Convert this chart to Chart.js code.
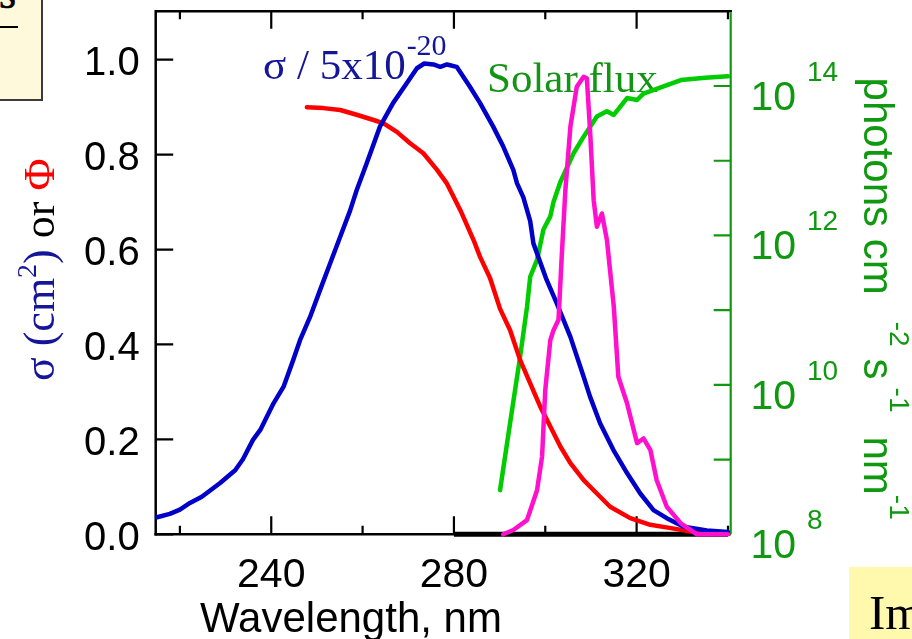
<!DOCTYPE html>
<html>
<head>
<meta charset="utf-8">
<script src="https://cdn.jsdelivr.net/npm/chart.js@4/dist/chart.umd.min.js"></script>
<style>
  html, body { margin: 0; padding: 0; background: #fff; width: 912px; height: 639px; overflow: hidden; }
  #wrap { position: absolute; left: 0; top: 0; width: 912px; height: 639px; }
  #c { position: absolute; left: 0; top: 0; }
  .note { position: absolute; box-sizing: border-box; overflow: hidden; }
  #noteA { left: -3px; top: -3px; width: 46px; height: 104px; background: #fff9dc; border: 2px solid #3a3a3a; }
  #noteA span { position: absolute; left: 0px; top: -27px; font: 44px 'Liberation Serif'; line-height: 44px; color: #000; -webkit-text-stroke: 0.6px #000; }
  #noteA i { position: absolute; left: 0; top: 27px; width: 19px; height: 1.5px; background: #000; }
  #noteB { left: 849px; top: 567px; width: 70px; height: 80px; background: #fff9ae; }
  #noteB span { position: absolute; left: 20px; top: 21px; font: 49px 'Liberation Serif'; line-height: 49px; color: #000; white-space: nowrap; }
</style>
</head>
<body>
<div id="wrap">
  <canvas id="c" width="912" height="639"></canvas>
  <div class="note" id="noteA"><span>s</span><i></i></div>
  <div class="note" id="noteB"><span>Im</span></div>
</div>
<script>
// Absorption cross-section (normalised by 5e-20 cm^2), quantum yield and solar flux vs wavelength
const sigmaWl  = [215, 217.8, 220, 222.2, 224.8, 228.8, 232.1, 233.8, 236, 237.6, 240.5, 242.7, 244.8, 246.3, 248.5,
                  250.7, 252.9, 255.1, 257.3, 258.7, 260.9, 263.8, 266.7, 269.7, 271.9, 273.5, 275.5, 277, 278.5, 280.6,
                  283.5, 285.7, 288.6, 290.8, 293, 293.8, 295.2, 296.7, 297.4, 300.3, 302.5, 305.5, 308.4, 309.8, 312,
                  314.9, 317.9, 320.8, 323.7, 326.6, 330.3, 335.4, 340];
const sigmaVal = [0.036, 0.043, 0.052, 0.066, 0.079, 0.108, 0.135, 0.158, 0.199, 0.220, 0.276, 0.311, 0.367, 0.409, 0.458,
                  0.515, 0.571, 0.627, 0.683, 0.725, 0.782, 0.859, 0.909, 0.951, 0.982, 0.992, 0.990, 0.985, 0.990, 0.985,
                  0.943, 0.909, 0.859, 0.817, 0.768, 0.740, 0.710, 0.660, 0.613, 0.536, 0.487, 0.416, 0.332, 0.290, 0.234,
                  0.178, 0.129, 0.086, 0.051, 0.034, 0.016, 0.008, 0.005];

const phiWl  = [247.8, 251.4, 255.1, 258.7, 262.4, 264.6, 267.5, 270.4, 273.3, 276.3, 278.4, 280.3, 281.4, 284.3, 285.7,
                287.9, 290.1, 292.3, 294.5, 296.7, 298.9, 301.1, 303.3, 305.5, 308.4, 311.3, 314.2, 318.6, 323, 327.5,
                331.8, 337.6, 340];
const phiVal = [0.900, 0.898, 0.894, 0.884, 0.873, 0.866, 0.848, 0.824, 0.803, 0.768, 0.740, 0.704, 0.683, 0.620, 0.585,
                0.540, 0.475, 0.430, 0.367, 0.318, 0.269, 0.227, 0.185, 0.150, 0.114, 0.086, 0.058, 0.034, 0.020, 0.013,
                0.006, 0.002, 0.001];

const rateWl  = [290.8, 293.0, 296.0, 298.2, 299.3, 300.0, 301.1, 301.8, 302.9, 303.6, 304.4, 305.5, 306.9, 308.4, 309.1,
                 309.8, 310.6, 311.3, 312.4, 313.5, 315.0, 316.0, 317.9, 320.1, 321.5, 323.0, 324.4, 326.6, 329.7, 333.2, 340];
const rateVal = [0, 0.009, 0.030, 0.093, 0.164, 0.304, 0.409, 0.430, 0.452, 0.585, 0.725, 0.859, 0.943, 0.964, 0.961,
                 0.852, 0.704, 0.648, 0.676, 0.620, 0.480, 0.332, 0.276, 0.192, 0.202, 0.178, 0.114, 0.058, 0.023, 0, 0];

const fluxWl  = [290.1, 292.3, 294.5, 296.0, 296.7, 298.2, 299.6, 301.1, 301.8, 303.3, 306.2, 308.4, 311.3, 313.5, 315.0,
                 317.9, 320.1, 321.5, 329.7, 335, 340];
const fluxVal = [3.9e8, 3.1e9, 2.4e10, 1.1e11, 2.8e11, 4.7e11, 1.2e12, 1.8e12, 2.8e12, 5.2e12, 1.26e13, 2.1e13, 3.9e13, 4.6e13, 4.1e13,
                 6.9e13, 6.5e13, 7.9e13, 1.2e14, 1.29e14, 1.35e14];

const baseWl  = [280, 340];
const baseVal = [0, 0];

// Axis ticks and labels
const wlMajorTicks = [240, 280, 320];
const wlMinorTicks = [220, 260, 300, 340];
const leftTicks    = [0, 0.2, 0.4, 0.6, 0.8, 1.0];
const fluxTickExp  = [9, 10, 11, 12, 13, 14];
const fluxLabelExp = [8, 10, 12, 14];

const BLUE = '#0000c8', RED = '#ff0000', MAGENTA = '#ff10cc', GREEN = '#00cc00';
const AX_GREEN = '#109910', TXT_BLUE = '#15159a', TXT_GREEN = '#149414';
const SANS = "'Liberation Sans', Arial, sans-serif";
const SERIF = "'Liberation Serif', 'Times New Roman', serif";
const CURVE_W = 4.5;

const pairs = (xs, ys) => xs.map((x, i) => ({ x, y: ys[i] }));

// draws a run of text pieces one after another; pieces may be raised (superscripts)
function drawRun(ctx, pieces) {
  let pos = 0;
  for (const p of pieces) {
    pos += p.gap || 0;
    ctx.font = p.font;
    ctx.fillStyle = p.color;
    ctx.fillText(p.text, pos, p.dy || 0);
    pos += ctx.measureText(p.text).width;
  }
}

const axesPlugin = {
  id: 'framedAxes',
  beforeDatasetsDraw(chart) {
    const { ctx, chartArea: a, scales } = chart;
    const xs = scales.x, ys = scales.y, fs = scales.flux;
    ctx.save();

    // in-plot labels
    ctx.textAlign = 'left';
    ctx.textBaseline = 'alphabetic';
    ctx.save();
    ctx.translate(263, 79.3);
    drawRun(ctx, [
      { text: 'σ / 5x10', font: '43px ' + SERIF, color: TXT_BLUE },
      { text: '-20', font: '30px ' + SERIF, color: TXT_BLUE, dy: -24, gap: 1 }
    ]);
    ctx.restore();
    ctx.font = '43px ' + SERIF;
    ctx.fillStyle = TXT_GREEN;
    ctx.fillText('Solar flux', 487, 91.7);

    // frame: left, top, bottom in black; right in green
    ctx.lineCap = 'butt';
    ctx.lineJoin = 'miter';
    ctx.strokeStyle = '#000';
    ctx.lineWidth = 2.5;
    ctx.beginPath();
    ctx.moveTo(a.left, a.bottom + 1.25);
    ctx.lineTo(a.left, a.top);
    ctx.lineTo(a.right + 1.25, a.top);
    ctx.stroke();
    ctx.beginPath();
    ctx.moveTo(a.left - 1.25, a.bottom);
    ctx.lineTo(a.right, a.bottom);
    ctx.stroke();
    ctx.strokeStyle = AX_GREEN;
    ctx.lineWidth = 2.2;
    ctx.beginPath();
    ctx.moveTo(a.right, a.top + 1.25);
    ctx.lineTo(a.right, a.bottom);
    ctx.stroke();

    // inward ticks
    ctx.strokeStyle = '#000';
    ctx.lineWidth = 2.2;
    ctx.beginPath();
    for (const v of wlMajorTicks) {
      const px = xs.getPixelForValue(v);
      ctx.moveTo(px, a.bottom); ctx.lineTo(px, a.bottom - 18);
      ctx.moveTo(px, a.top); ctx.lineTo(px, a.top + 17.5);
    }
    for (const v of wlMinorTicks) {
      const px = xs.getPixelForValue(v);
      ctx.moveTo(px, a.bottom); ctx.lineTo(px, a.bottom - 8.5);
      ctx.moveTo(px, a.top); ctx.lineTo(px, a.top + 8);
    }
    for (const v of leftTicks) {
      const py = ys.getPixelForValue(v);
      ctx.moveTo(a.left, py); ctx.lineTo(a.left + 17.5, py);
    }
    ctx.stroke();
    ctx.strokeStyle = AX_GREEN;
    ctx.beginPath();
    for (const e of fluxTickExp) {
      const py = fs.getPixelForValue(Math.pow(10, e));
      ctx.moveTo(a.right, py); ctx.lineTo(a.right - 17, py);
    }
    ctx.stroke();
    ctx.restore();
  },
  afterDraw(chart) {
    const { ctx, scales } = chart;
    const xs = scales.x, ys = scales.y, fs = scales.flux;
    ctx.save();
    ctx.textBaseline = 'alphabetic';

    // wavelength tick labels
    ctx.font = '41px ' + SANS;
    ctx.fillStyle = '#000';
    ctx.textAlign = 'center';
    for (const v of wlMajorTicks) ctx.fillText(String(v), xs.getPixelForValue(v), 587);
    ctx.textAlign = 'left';
    ctx.font = '42px ' + SANS;
    ctx.fillText('Wavelength, nm', 200, 631.7);

    // left tick labels
    ctx.font = '40px ' + SANS;
    ctx.textAlign = 'right';
    for (const v of leftTicks) ctx.fillText(v.toFixed(1), 139.7, ys.getPixelForValue(v) + 15.3);

    // right (log) tick labels with superscript exponents
    ctx.textAlign = 'left';
    ctx.fillStyle = AX_GREEN;
    for (const e of fluxLabelExp) {
      const py = fs.getPixelForValue(Math.pow(10, e));
      ctx.font = '41px ' + SANS;
      ctx.fillText('10', 750.5, py + 24);
      ctx.font = '28px ' + SANS;
      ctx.fillText(String(e), 807, py - 5);
    }

    // left axis title
    ctx.save();
    ctx.translate(53.5, 381);
    ctx.rotate(-Math.PI / 2);
    drawRun(ctx, [
      { text: 'σ', font: '44px ' + SERIF, color: TXT_BLUE },
      { text: ' (cm', font: '44px ' + SERIF, color: TXT_BLUE },
      { text: '2', font: '28px ' + SERIF, color: TXT_BLUE, dy: -18 },
      { text: ')', font: '44px ' + SERIF, color: TXT_BLUE },
      { text: ' or ', font: '44px ' + SERIF, color: '#000' },
      { text: 'Φ', font: '44px ' + SERIF, color: RED }
    ]);
    ctx.restore();

    // right axis title
    ctx.save();
    ctx.translate(863.5, 77.6);
    ctx.rotate(Math.PI / 2);
    drawRun(ctx, [
      { text: 'photons cm', font: '42px ' + SANS, color: AX_GREEN },
      { text: '-2', font: '28px ' + SANS, color: AX_GREEN, dy: -26, gap: 27 },
      { text: 's', font: '42px ' + SANS, color: AX_GREEN, gap: 12 },
      { text: '-1', font: '28px ' + SANS, color: AX_GREEN, dy: -26, gap: 8 },
      { text: 'nm', font: '42px ' + SANS, color: AX_GREEN, gap: 24 },
      { text: '-1', font: '28px ' + SANS, color: AX_GREEN, dy: -26 }
    ]);
    ctx.restore();

    ctx.restore();
  }
};

new Chart(document.getElementById('c'), {
  type: 'line',
  data: {
    datasets: [
      { label: 'rate',  data: pairs(rateWl, rateVal),   borderColor: MAGENTA, borderWidth: CURVE_W, yAxisID: 'y' },
      { label: 'sigma', data: pairs(sigmaWl, sigmaVal), borderColor: BLUE,    borderWidth: CURVE_W, yAxisID: 'y' },
      { label: 'phi',   data: pairs(phiWl, phiVal),     borderColor: RED,     borderWidth: CURVE_W, yAxisID: 'y' },
      { label: 'flux',  data: pairs(fluxWl, fluxVal),   borderColor: GREEN,   borderWidth: CURVE_W, yAxisID: 'flux' },
      { label: 'base',  data: pairs(baseWl, baseVal),   borderColor: '#000',  borderWidth: 5, borderCapStyle: 'butt', yAxisID: 'y' }
    ]
  },
  options: {
    responsive: false,
    animation: false,
    devicePixelRatio: 1,
    layout: { padding: { left: 155.7, top: 11.3, right: 181.3, bottom: 104.7 } },
    elements: {
      point: { radius: 0, hoverRadius: 0 },
      line: { tension: 0, fill: false, borderJoinStyle: 'round', borderCapStyle: 'round' }
    },
    datasets: { line: { clip: false } },
    scales: {
      x:    { type: 'linear', min: 214.7, max: 340.6, display: false },
      y:    { type: 'linear', min: 0, max: 1.102, display: false },
      flux: { type: 'logarithmic', min: 1e8, max: 1e15, display: false }
    },
    plugins: { legend: { display: false }, tooltip: { enabled: false } },
    events: []
  },
  plugins: [axesPlugin]
});
</script>
</body>
</html>
